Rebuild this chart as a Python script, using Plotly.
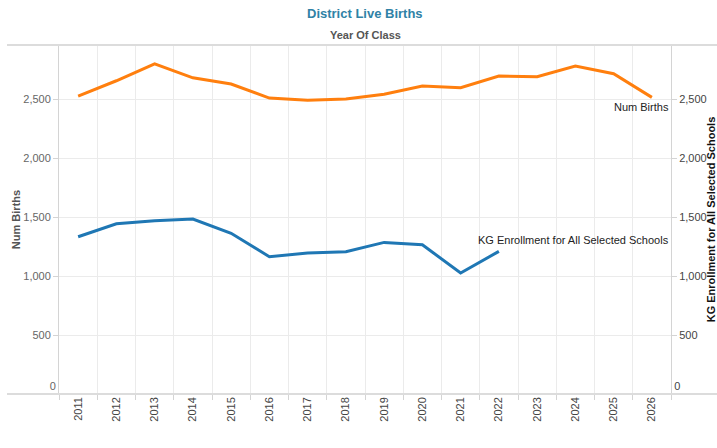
import plotly.graph_objects as go

years = list(range(2011, 2027))
num_births = [2525, 2655, 2799, 2680, 2627, 2508, 2489, 2500, 2540, 2610, 2596, 2695, 2689, 2780, 2715, 2514]
kg_years = list(range(2011, 2023))
kg_enrollment = [1333, 1443, 1469, 1483, 1362, 1164, 1195, 1206, 1285, 1265, 1025, 1209]
y_ticks = [500, 1000, 1500, 2000, 2500]
y_zero = [0]
y_max = 2958

ORANGE = "#ff7f0e"
BLUE = "#1f77b4"
GRID = "#ebebeb"
AXIS = "#d4d4d4"
FONT = "Liberation Sans, Arial, sans-serif"

fig = go.Figure()
fig.add_trace(go.Scatter(x=years, y=num_births, mode="lines", line=dict(color=ORANGE, width=3),
                         name="Num Births", yaxis="y"))
fig.add_trace(go.Scatter(x=kg_years, y=kg_enrollment, mode="lines", line=dict(color=BLUE, width=3),
                         name="KG Enrollment for All Selected Schools", yaxis="y2"))

bounds = [y - 0.5 for y in years] + [years[-1] + 0.5]

common_y = dict(range=[0, y_max], tickformat=",", zeroline=False, automargin=False,
                ticks="outside", ticklen=5, tickcolor=AXIS)

fig.update_layout(
    width=717, height=448,
    margin=dict(l=59, r=46, t=45, b=54, autoexpand=False),
    paper_bgcolor="white", plot_bgcolor="white",
    showlegend=False,
    font=dict(family=FONT, size=11, color="#555"),
    xaxis=dict(
        range=[years[0] - 0.5, years[-1] + 0.5], automargin=False,
        tickvals=years, ticktext=[str(y) for y in years],
        tickangle=-90, showgrid=False, ticks="", zeroline=False,
        tickfont=dict(size=11, color="#444"),
        minor=dict(tickvals=bounds, showgrid=True, gridcolor=GRID, gridwidth=1,
                   ticks="outside", ticklen=5, tickcolor=AXIS),
    ),
    yaxis=dict(
        **common_y, tickvals=y_ticks,
        showgrid=True, gridcolor=GRID,
        showline=True, linecolor=AXIS, linewidth=1,
        tickfont=dict(size=11, color="#666"),
        title=dict(text="<b>Num Births</b>", font=dict(size=11, color="#555"), standoff=0),
    ),
    yaxis2=dict(
        **common_y, tickvals=y_ticks,
        overlaying="y", side="right", showgrid=False,
        showline=True, linecolor=AXIS, linewidth=1,
        tickfont=dict(size=11, color="#444"),
        title=dict(text="<b>KG Enrollment for All Selected Schools</b>", font=dict(size=11, color="#111"), standoff=4),
    ),
    yaxis3=dict(
        **common_y, tickvals=y_zero, overlaying="y", side="left", showgrid=False,
        ticklabelposition="outside top", tickfont=dict(size=11, color="#666"),
    ),
    yaxis4=dict(
        **common_y, tickvals=y_zero, overlaying="y", side="right", showgrid=False,
        ticklabelposition="outside top", tickfont=dict(size=11, color="#444"),
    ),
)
# invisible carriers so the zero-label axes are drawn
fig.add_trace(go.Scatter(x=[years[0]], y=[0], yaxis="y3", mode="markers", marker=dict(opacity=0),
                         hoverinfo="skip"))
fig.add_trace(go.Scatter(x=[years[0]], y=[0], yaxis="y4", mode="markers", marker=dict(opacity=0),
                         hoverinfo="skip"))

fig.add_annotation(text="<b>District Live Births</b>", xref="paper", yref="paper", x=0.5, y=1,
                   yanchor="middle", yshift=32, showarrow=False, font=dict(size=13, color="#2f82a6"))
fig.add_annotation(text="<b>Year Of Class</b>", xref="paper", yref="paper", x=0.5, y=1,
                   yanchor="middle", yshift=10, showarrow=False, font=dict(size=11, color="#555"))

fig.add_annotation(text="Num Births", x=years[-1] + 0.5, y=num_births[-1], xref="x", yref="y",
                   xanchor="right", yanchor="top", yshift=-2, showarrow=False,
                   font=dict(size=11, color="#222"))
fig.add_annotation(text="KG Enrollment for All Selected Schools", x=years[-1] + 0.5, y=kg_enrollment[-1],
                   xref="x", yref="y2", xanchor="right", yanchor="bottom", yshift=3, showarrow=False,
                   font=dict(size=11, color="#222"))

for yp in (0, 1):
    fig.add_shape(type="line", xref="paper", yref="paper", x0=-0.085, x1=1.08, y0=yp, y1=yp,
                  line=dict(color="#dcdcdc", width=2), layer="above")

fig.write_html("out.html", config={"displayModeBar": False},
               post_script="document.body.style.margin='0';document.body.style.padding='0';")
